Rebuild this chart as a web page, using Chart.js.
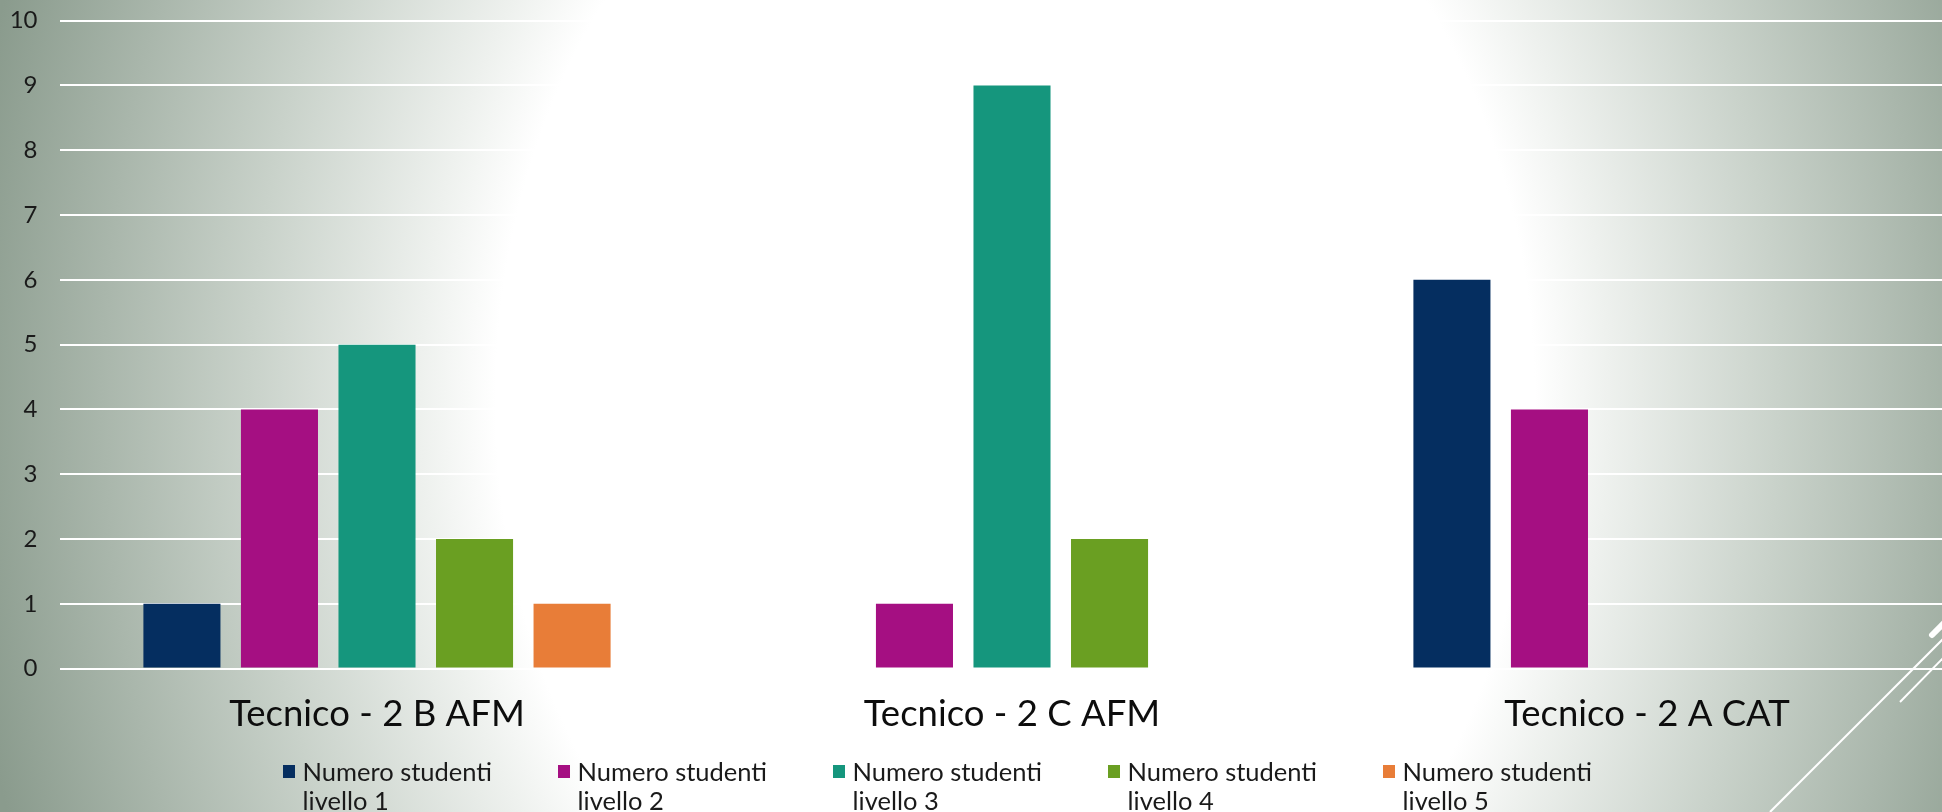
<!DOCTYPE html>
<html><head><meta charset="utf-8">
<script src="https://cdn.jsdelivr.net/npm/chart.js@4"></script>
<style>
html,body{margin:0;padding:0;width:1942px;height:812px;overflow:hidden;}
#bg{position:absolute;left:0;top:0;width:1942px;height:812px;
 background:radial-gradient(ellipse 1060px 1330px at 1015px 400px,#ffffff 0%,#ffffff 49%,#eef1ee 56%,#c9d2ca 72%,#8a9b8d 100%);}
#wrap{position:absolute;left:0;top:0;width:1966px;height:812px;}
#deco{position:absolute;left:0;top:0;}
#legend{position:absolute;left:283px;top:757px;display:flex;font-family:Lato,sans-serif;font-size:25.5px;line-height:29px;color:#1a1a1a;}
.item{width:275px;display:flex;align-items:flex-start;}
.sq{width:12px;height:13px;margin-top:8px;flex:none;}
.tx{margin-left:7.5px;width:220px;}
</style></head>
<body>
<div id="bg"></div>
<div id="wrap"><canvas id="c" width="1966" height="812"></canvas></div>
<svg id="deco" width="1942" height="812">
 <line x1="1770" y1="812" x2="1945" y2="637" stroke="#fff" stroke-width="2"/>
 <line x1="1900" y1="702" x2="1945" y2="656" stroke="#fff" stroke-width="2"/>
 <line x1="1932" y1="635" x2="1948" y2="619" stroke="#fff" stroke-width="6" stroke-linecap="round"/>
</svg>
<div id="legend"></div>
<script>
const categories = ['Tecnico - 2 B AFM', 'Tecnico - 2 C AFM', 'Tecnico - 2 A CAT'];
const seriesNames = ['Numero studenti livello 1', 'Numero studenti livello 2', 'Numero studenti livello 3', 'Numero studenti livello 4', 'Numero studenti livello 5'];
const seriesColors = ['#052e60', '#a50f82', '#15967d', '#6a9f22', '#e87d38'];
const livello1 = [1, null, 6];
const livello2 = [4, 1, 4];
const livello3 = [5, 9, null];
const livello4 = [2, 2, null];
const livello5 = [1, null, null];
const seriesValues = [livello1, livello2, livello3, livello4, livello5];
const yMin = 0, yMax = 10, yStep = 1;

const datasets = seriesNames.map((name, i) => ({
  label: name,
  data: seriesValues[i],
  backgroundColor: seriesColors[i],
  borderWidth: 0,
  categoryPercentage: 0.768,
  barPercentage: 0.79
}));

new Chart(document.getElementById('c'), {
  type: 'bar',
  data: { labels: categories, datasets },
  options: {
    responsive: false,
    animation: false,
    devicePixelRatio: 1,
    layout: { padding: { top: 20.7, right: 1.5, left: 0, bottom: 0 } },
    plugins: { legend: { display: false }, tooltip: { enabled: false } },
    scales: {
      x: {
        grid: { display: false, drawTicks: false },
        border: { display: false },
        ticks: { font: { family: 'Lato', size: 36.5 }, color: '#0d0d0d', padding: 24 },
        afterFit: s => { s.height = 143.4; s.paddingLeft = 0; s.paddingRight = 0; }
      },
      y: {
        min: yMin, max: yMax,
        grid: { color: '#ffffff', lineWidth: 2, drawTicks: false },
        border: { display: false },
        ticks: { stepSize: yStep, font: { family: 'Lato', size: 24 }, color: '#1a1a1a', padding: 22 },
        afterFit: s => { s.width = 59.5; s.paddingTop = 0; s.paddingBottom = 0; }
      }
    }
  }
});

const lg = document.getElementById('legend');
seriesNames.forEach((n, i) => {
  const it = document.createElement('div'); it.className = 'item';
  const sq = document.createElement('div'); sq.className = 'sq'; sq.style.background = seriesColors[i];
  const tx = document.createElement('div'); tx.className = 'tx'; tx.textContent = n;
  it.appendChild(sq); it.appendChild(tx); lg.appendChild(it);
});
</script>
</body></html>
